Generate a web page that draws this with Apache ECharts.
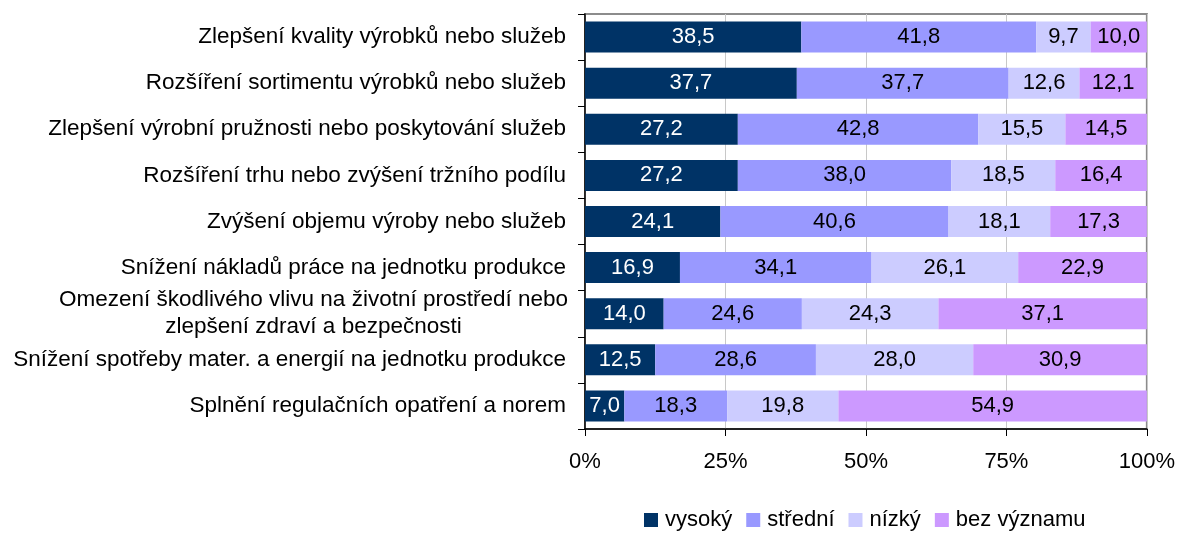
<!DOCTYPE html>
<html>
<head>
<meta charset="utf-8">
<script src="https://cdn.jsdelivr.net/npm/echarts@6/dist/echarts.min.js"></script>
<style>
  html, body { margin: 0; padding: 0; background: #fff; }
  #chart { width: 1178px; height: 534px; }
</style>
</head>
<body>
<div id="chart"></div>
<script>
var categories = [
  'Zlepšení kvality výrobků nebo služeb',
  'Rozšíření sortimentu výrobků nebo služeb',
  'Zlepšení výrobní pružnosti nebo poskytování služeb',
  'Rozšíření trhu nebo zvýšení tržního podílu',
  'Zvýšení objemu výroby nebo služeb',
  'Snížení nákladů práce na jednotku produkce',
  'Omezení škodlivého vlivu na životní prostředí nebo\nzlepšení zdraví a bezpečnosti',
  'Snížení spotřeby mater. a energií na jednotku produkce',
  'Splnění regulačních opatření a norem'
]
var seriesNames = ['vysoký', 'střední', 'nízký', 'bez významu']
var vysoky = [38.5, 37.7, 27.2, 27.2, 24.1, 16.9, 14.0, 12.5, 7.0]
var stredni = [41.8, 37.7, 42.8, 38.0, 40.6, 34.1, 24.6, 28.6, 18.3]
var nizky = [9.7, 12.6, 15.5, 18.5, 18.1, 26.1, 24.3, 28.0, 19.8]
var bezVyznamu = [10.0, 12.1, 14.5, 16.4, 17.3, 22.9, 37.1, 30.9, 54.9]
var xTicks = [0, 25, 50, 75, 100]

var colors = ['#003366', '#9999ff', '#ccccff', '#cc99ff']
var labelColors = ['#ffffff', '#000000', '#000000', '#000000']
var font = 'Liberation Sans, Arial, sans-serif'
var fs = 22
var catFs = 22.5

var myChart = echarts.init(document.getElementById('chart'))

function makeSeries(name, data, i) {
  return {
    name: name,
    type: 'bar',
    stack: 'total',
    barWidth: 31,
    itemStyle: { color: colors[i] },
    label: {
      show: true,
      position: 'inside',
      color: labelColors[i],
      fontSize: fs,
      fontFamily: font,
      formatter: function (p) {
        return p.value.toFixed(1).replace('.', ',')
      }
    },
    data: data
  }
}

var option = {
  animation: false,
  color: colors,
  grid: {
    left: 585,
    right: 31,
    top: 14,
    bottom: 105,
    show: true,
    borderColor: '#8c8c8c',
    borderWidth: 2
  },
  legend: {
    left: 644,
    top: 509,
    padding: 0,
    itemWidth: 14,
    itemHeight: 14,
    itemGap: 14,
    icon: 'rect',
    textStyle: { fontSize: fs, fontFamily: font, color: '#000', padding: [0, 0, 0, 2] },
    data: seriesNames
  },
  xAxis: {
    type: 'value',
    min: 0,
    max: 100,
    interval: 25,
    axisLine: { show: true, lineStyle: { color: '#000', width: 1.5 } },
    axisTick: { show: true, length: 7, lineStyle: { color: '#000' } },
    axisLabel: {
      margin: 22,
      fontSize: fs,
      fontFamily: font,
      color: '#000',
      formatter: function (v) {
        return xTicks.indexOf(v) >= 0 ? v + '%' : ''
      }
    },
    splitLine: { show: true, lineStyle: { color: '#c8c8c8', width: 1 } }
  },
  yAxis: {
    type: 'category',
    inverse: true,
    data: categories,
    axisLine: { show: true, lineStyle: { color: '#000', width: 1.5 } },
    axisTick: { show: true, length: 7, lineStyle: { color: '#000' } },
    axisLabel: {
      margin: 19,
      fontSize: catFs,
      fontFamily: font,
      color: '#000',
      lineHeight: 27,
      formatter: function (v) {
        if (v.indexOf('\n') >= 0) {
          return v.split('\n').map(function (s) { return '{c|' + s + '}' }).join('\n')
        }
        return v
      },
      rich: {
        c: { width: 505, align: 'center', fontSize: catFs, fontFamily: font, color: '#000', lineHeight: 27 }
      }
    }
  },
  series: [
    makeSeries(seriesNames[0], vysoky, 0),
    makeSeries(seriesNames[1], stredni, 1),
    makeSeries(seriesNames[2], nizky, 2),
    makeSeries(seriesNames[3], bezVyznamu, 3)
  ]
}
myChart.setOption(option)
</script>
</body>
</html>
